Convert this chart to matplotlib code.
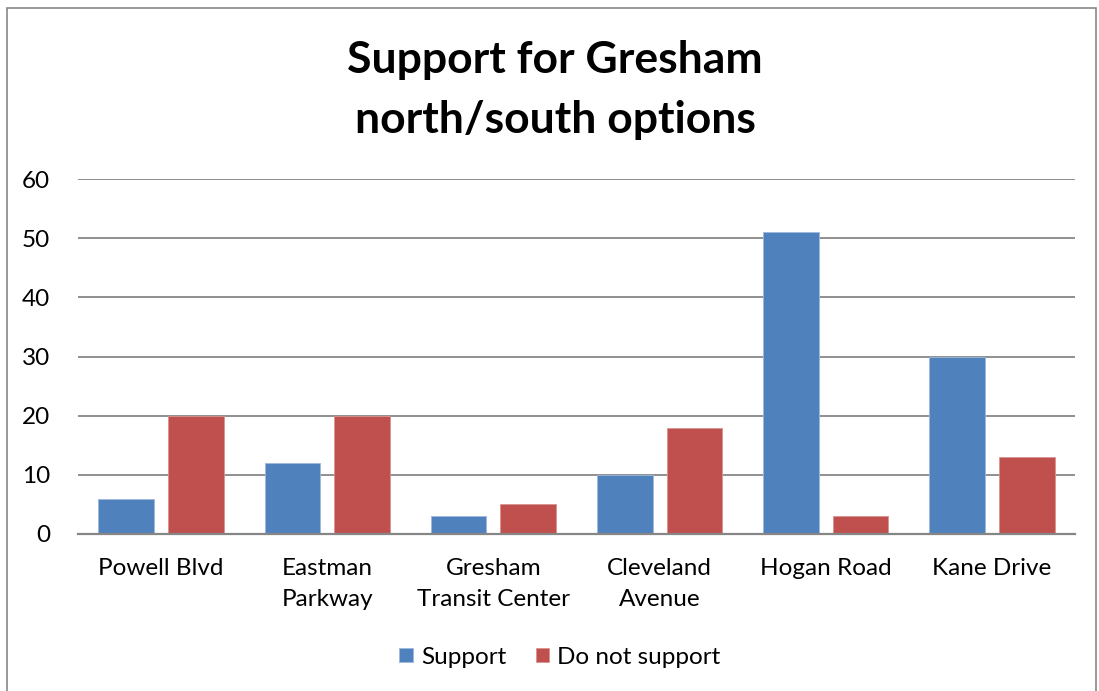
import numpy as np
import matplotlib.pyplot as plt
from matplotlib.patches import Rectangle

plt.rcParams['font.family'] = ['Lato', 'DejaVu Sans']

categories = ['Powell Blvd', 'Eastman\nParkway', 'Gresham\nTransit Center',
              'Cleveland\nAvenue', 'Hogan Road', 'Kane Drive']
support = [6, 12, 3, 10, 51, 30]
not_support = [20, 20, 5, 18, 3, 13]

blue = '#4F81BD'
red = '#C0504D'

fig = plt.figure(figsize=(10.99, 6.91), dpi=100)
# outer chart frame
fig.patches.append(Rectangle((0.0065, -0.01), 0.991, 0.999, transform=fig.transFigure,
                             fill=False, edgecolor='#868686', linewidth=1.2))

ax = fig.add_axes([78 / 1099, 1 - 534 / 691, (1075 - 78) / 1099, (534 - 179) / 691])

x = np.arange(len(categories))
w = 0.335
ax.bar(x - 0.21, support, w, color=blue, edgecolor='#9DB9DC', linewidth=0.6,
       label='Support', zorder=3)
ax.bar(x + 0.21, not_support, w, color=red, edgecolor='#D99391', linewidth=0.6,
       label='Do not support', zorder=3)

ax.set_xlim(-0.5, len(categories) - 0.5)
ax.set_ylim(0, 60)
ax.set_yticks(range(0, 61, 10))
ax.yaxis.grid(True, color='#878787', linewidth=1.3, zorder=0)
ax.tick_params(axis='y', length=0, pad=20, labelsize=17.5)
ax.tick_params(axis='x', length=0, pad=17, labelsize=17.5)
ax.set_xticks(x)
ax.set_xticklabels(categories, linespacing=1.6)
for s in ['top', 'right', 'left']:
    ax.spines[s].set_visible(False)
ax.spines['bottom'].set_color('#868686')
ax.spines['bottom'].set_linewidth(1.6)
ax.spines['bottom'].set_zorder(4)

fig.text(555 / 1099, 1 - 90 / 691, 'Support for Gresham\nnorth/south options',
         ha='center', va='center', fontsize=32, fontweight='bold', linespacing=1.58)

fig.legend(loc='center', bbox_to_anchor=(560 / 1099, 1 - 657 / 691), ncol=2,
           frameon=False, fontsize=17.5, handlelength=0.55, handleheight=0.55,
           handletextpad=0.35, columnspacing=1.2)

fig.savefig('out.png', dpi=100)
